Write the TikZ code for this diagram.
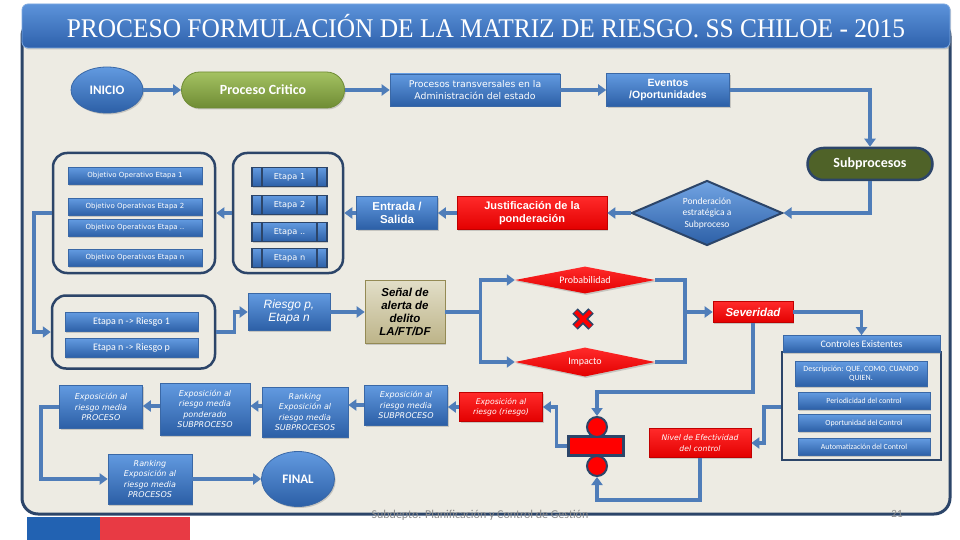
\documentclass[tikz,border=0pt]{standalone}
\usepackage{fontspec}
\setmainfont{Liberation Sans}
\newfontfamily\calfont{Carlito}
\newfontfamily\serfont{Liberation Serif}
\newfontfamily\dvfont{DejaVu Sans}
\usetikzlibrary{arrows.meta,shapes.geometric,shadows,calc}
\definecolor{navy}{HTML}{2C4569}
\definecolor{lineblue}{HTML}{4F7DB9}
\definecolor{blueT}{HTML}{629AE0}
\definecolor{blueB}{HTML}{2C5FA6}
\definecolor{boxedge}{HTML}{3A68A6}
\definecolor{redT}{HTML}{FF2A2A}
\definecolor{redB}{HTML}{E30000}
\definecolor{rededge}{HTML}{C00000}
\definecolor{greenT}{HTML}{A4C262}
\definecolor{greenB}{HTML}{6F8C34}
\definecolor{olive}{HTML}{4F6228}
\definecolor{panel}{HTML}{EDEBE3}
\definecolor{beigeT}{HTML}{E2DEC8}
\definecolor{beigeB}{HTML}{BDB488}
\definecolor{beigeedge}{HTML}{948A54}
\definecolor{titleT}{HTML}{5C93DA}
\definecolor{titleB}{HTML}{2E61AC}
\definecolor{flagblue}{HTML}{2262B2}
\definecolor{flagred}{HTML}{E83A44}
\newcommand\fsz[2]{\fontsize{#1}{#2}\selectfont}
\tikzset{
  sh/.style={drop shadow={opacity=0.35,shadow xshift=1.2pt,shadow yshift=-1.5pt}},
  bbox/.style={draw=boxedge, line width=0.6pt, top color=blueT, bottom color=blueB,
    text=white, inner sep=1pt, align=center, sh},
  rbox/.style={draw=rededge, line width=0.6pt, top color=redT, bottom color=redB,
    text=white, inner sep=1pt, align=center, sh},
  grp/.style={draw=navy, line width=2.5pt, rounded corners=14pt},
  conn/.style={draw=lineblue, line width=3.5pt},
  arr/.style={conn, -{Triangle[width=11pt,length=8pt]}},
  objbox/.style={bbox, minimum width=134pt, minimum height=17pt, font=\dvfont\fsz{7}{8}},
  etapa/.style={draw=navy, line width=1.5pt, top color=blueT, bottom color=blueB,
    text=white, minimum width=75pt, minimum height=19pt, font=\dvfont\fsz{8.2}{9}, sh,
    path picture={\draw[navy,line width=1.2pt]
      ([xshift=10pt]path picture bounding box.north west) -- ([xshift=10pt]path picture bounding box.south west)
      ([xshift=-10pt]path picture bounding box.north east) -- ([xshift=-10pt]path picture bounding box.south east);}},
  riesgobox/.style={bbox, minimum width=133pt, minimum height=19pt, font=\calfont\fsz{10}{12}},
  expbox/.style={bbox, font=\dvfont\itshape\fsz{8}{10.5}},
  ctlbox/.style={bbox, minimum width=132pt, minimum height=17pt, font=\calfont\fsz{7.8}{9}},
  oval/.style={shape=ellipse, draw=boxedge, line width=0.8pt, top color=blueT, bottom color=blueB,
    text=white, font=\calfont\bfseries\fsz{13}{15}, inner sep=0pt, sh},
  dot/.style={shape=circle, draw=navy, line width=2pt, fill=red, minimum size=20pt, inner sep=0pt}
}
\begin{document}
\begin{tikzpicture}[x=1pt,y=-1pt]
\useasboundingbox (0,0) rectangle (960,540);
\fill[white] (0,0) rectangle (960,540);
% panel
\draw[draw=navy, line width=3pt, fill=panel, rounded corners=16pt] (22,20) rectangle (950,514);
% title bar
\node[draw=titleT!80!white, line width=0.8pt, top color=titleT, bottom color=titleB, rounded corners=6pt,
  minimum width=928pt, minimum height=44pt, inner sep=0pt, sh, text=white,
  font=\serfont\fsz{27}{27}] (title) at (486,26)
  {\scalebox{0.94}[1]{PROCESO FORMULACIÓN DE LA MATRIZ DE RIESGO. SS CHILOE - 2015}};
% flag bands
\fill[flagblue] (27,517) rectangle (100,540);
\fill[flagred] (100,517) rectangle (190,540);
% footer
\node[text=black!45, font=\calfont\fsz{12}{14}] (foot) at (480,515) {Subdepto. Planificación y Control de Gestión};
\node[text=black!45, font=\calfont\fsz{11}{13}] (pnum) at (897,514) {21};

% top row
\node[oval, minimum width=72pt, minimum height=46pt] (inicio) at (107,90) {INICIO};
\node[draw=greenB, line width=0.8pt, top color=greenT, bottom color=greenB, rounded corners=18pt,
  minimum width=163pt, minimum height=36pt, text=white, font=\calfont\bfseries\fsz{14}{16}, sh] (proc) at (263,90) {Proceso Critico};
\node[bbox, minimum width=170pt, minimum height=32pt, font=\dvfont\fsz{9.3}{11.5}] (trans) at (475,90)
  {Procesos transversales en la\\Administración del estado};
\node[bbox, minimum width=123pt, minimum height=33pt, font=\bfseries\fsz{10.5}{12.5}] (ev) at (668,90)
  {Eventos\\/Oportunidades};
\node[draw=navy, line width=2.5pt, fill=olive, rounded corners=16pt, minimum width=125pt, minimum height=32pt,
  text=white, font=\calfont\bfseries\fsz{14}{16}] (sub) at (870,164) {Subprocesos};

% second row
\node[shape=diamond, aspect=2.3, draw=navy, line width=2pt, top color=blueT!90!white, bottom color=blueB,
  minimum width=151pt, minimum height=65pt, inner sep=0pt, text=white, align=center,
  font=\calfont\fsz{9.5}{11.5}] (pond) at (707,213) {Ponderación\\estratégica a\\Subproceso};
\node[rbox, minimum width=150pt, minimum height=33pt, font=\bfseries\fsz{11}{13}] (just) at (532,213)
  {Justificación de la\\ponderación};
\node[bbox, minimum width=81pt, minimum height=33pt, font=\bfseries\fsz{11.5}{13}] (entr) at (397,213)
  {Entrada /\\Salida};
\node[grp, minimum width=110pt, minimum height=120pt] (gEt) at (288,213) {};
\node[grp, minimum width=162pt, minimum height=120pt] (gObj) at (134,213) {};
\node[objbox] (o1) at (135,176) {Objetivo Operativo Etapa 1};
\node[objbox] (o2) at (135,207) {Objetivo Operativos Etapa 2};
\node[objbox] (o3) at (135,228) {Objetivo Operativos Etapa ..};
\node[objbox] (o4) at (135,258) {Objetivo Operativos Etapa n};
\node[etapa] (e1) at (289.5,177) {Etapa 1};
\node[etapa] (e2) at (289.5,205) {Etapa 2};
\node[etapa] (e3) at (289.5,232) {Etapa ..};
\node[etapa] (e4) at (289.5,258) {Etapa n};

% riesgo row
\node[grp, minimum width=163pt, minimum height=73pt] (gR) at (133.5,332) {};
\node[riesgobox] (r1) at (131.5,322) {Etapa n -> Riesgo 1};
\node[riesgobox] (r2) at (131.5,348) {Etapa n -> Riesgo p};
\node[bbox, minimum width=82pt, minimum height=37pt, font=\itshape\fsz{12}{13.5}] (rp) at (289,312) {Riesgo p,\\Etapa n};
\node[draw=beigeedge, line width=0.6pt, top color=beigeT, bottom color=beigeB, minimum width=80pt, minimum height=63pt,
  align=center, inner sep=1pt, font=\bfseries\itshape\fsz{11.5}{13}, sh] (senal) at (405,312)
  {Señal de\\alerta de\\delito\\LA/FT/DF};
\node[shape=diamond, aspect=5.2, top color=redT, bottom color=redB, minimum width=140pt, minimum height=27pt,
  inner sep=0pt, text=white, font=\calfont\fsz{10}{11}, sh] (prob) at (585,280) {Probabilidad};
\node[shape=diamond, aspect=5.2, top color=redT, bottom color=redB, minimum width=140pt, minimum height=29pt,
  inner sep=0pt, text=white, font=\calfont\fsz{10}{11}, sh] (imp) at (585,362) {Impacto};
\draw[navy, line width=7.5pt] (575,311) -- (591,327) (575,327) -- (591,311);
\draw[red, line width=4pt] (575.5,311.5) -- (590.5,326.5) (575.5,326.5) -- (590.5,311.5);
\node[rbox, minimum width=80pt, minimum height=21pt, font=\bfseries\itshape\fsz{11.5}{13}] (sev) at (753,312) {Severidad};

% controles
\node[draw=navy, line width=2.5pt, minimum width=159pt, minimum height=108pt] (cg) at (861.5,406) {};
\node[bbox, minimum width=157pt, minimum height=17pt, font=\calfont\fsz{10}{11}] (ctlh) at (861.5,344) {Controles Existentes};
\node[ctlbox, minimum height=25pt, font=\calfont\fsz{8}{9}] (desc) at (861,374) {Descripción: QUE, COMO, CUANDO\\QUIEN.};
\node[ctlbox] (per) at (864,401) {Periodicidad del control};
\node[ctlbox] (opo) at (864,423) {Oportunidad del Control};
\node[ctlbox] (aut) at (864,447) {Automatización del Control};
\node[rbox, minimum width=102pt, minimum height=29pt, font=\dvfont\itshape\fsz{7.7}{10.5}] (nivel) at (700,443)
  {Nivel de Efectividad\\del control};

% division symbol
\node[draw=navy, line width=2.5pt, fill=red, minimum width=55pt, minimum height=19pt, inner sep=0pt] (bar) at (596,446) {};
\node[dot] (c1) at (597,427) {};
\node[dot] (c2) at (597,466) {};

% exposure row
\node[rbox, minimum width=83pt, minimum height=29pt, font=\dvfont\itshape\fsz{7.7}{10.5}] (expR) at (501,407) {Exposición al\\riesgo (riesgo)};
\node[expbox, minimum width=83pt, minimum height=40pt] (expS) at (406,405) {Exposición al\\riesgo media\\SUBPROCESO};
\node[expbox, minimum width=86pt, minimum height=50pt] (rankS) at (305,412) {Ranking\\Exposición al\\riesgo media\\SUBPROCESOS};
\node[expbox, minimum width=90pt, minimum height=52pt] (ponder) at (205,409) {Exposición al\\riesgo media\\ponderado\\SUBPROCESO};
\node[expbox, minimum width=83pt, minimum height=43pt] (expP) at (101,407) {Exposición al\\riesgo media\\PROCESO};
\node[expbox, minimum width=84pt, minimum height=50pt] (rankP) at (150,479) {Ranking\\Exposición al\\riesgo media\\PROCESOS};
\node[oval, minimum width=73pt, minimum height=55pt] (final) at (298,479) {FINAL};

% connectors
\draw[arr] (inicio) -- (proc);
\draw[arr] (proc) -- (trans);
\draw[arr] (trans) -- (ev);
\draw[arr] (ev.east) -| (sub.north);
\draw[arr] (sub.south) |- (pond.east);
\draw[arr] (pond.west) -- (just.east);
\draw[arr] (just.west) -- (entr.east);
\draw[arr] (entr.west) -- (gEt.east);
\draw[arr] (gEt.west) -- (gObj.east);
\draw[arr] (gObj.west) -- ++(-18,0) |- (gR.west);
\draw[arr] (gR.east) -- ++(18,0) |- (rp.west);
\draw[arr] (rp.east) -- (senal.west);
\draw[conn] (senal.east) -- ++(35,0) coordinate (sp);
\draw[arr] (sp) |- (prob.west);
\draw[arr] (sp) |- (imp.west);
\path (prob.east) ++(30,0) coordinate (pj);
\draw[conn] (prob.east) -- (pj) |- (imp.east);
\draw[arr] (pj |- sev.west) -- (sev.west);
\draw[arr] (sev.east) -| (ctlh.north);
\draw[arr] (sev.south) -- ++(0,69) -| (c1.north);
\draw[arr] (nivel.south) -- ++(0,42) -| (c2.south);
\draw[arr] (cg.west |- 0,407) -- ++(-17,0) |- (nivel.east);
\draw[arr] (bar.west) -- ++(-11,0) |- (expR.east);
\draw[arr] (expR.west) -- (expR.west -| expS.east);
\draw[arr] (expS.west) -- (expS.west -| rankS.east);
\draw[arr] (rankS.west |- 0,406) -- (ponder.east |- 0,406);
\draw[arr] (ponder.west |- 0,406) -- (expP.east |- 0,406);
\draw[arr] (expP.west) -- ++(-18,0) |- (rankP.west);
\draw[arr] (rankP.east) -- (final.west);
\end{tikzpicture}
\end{document}
